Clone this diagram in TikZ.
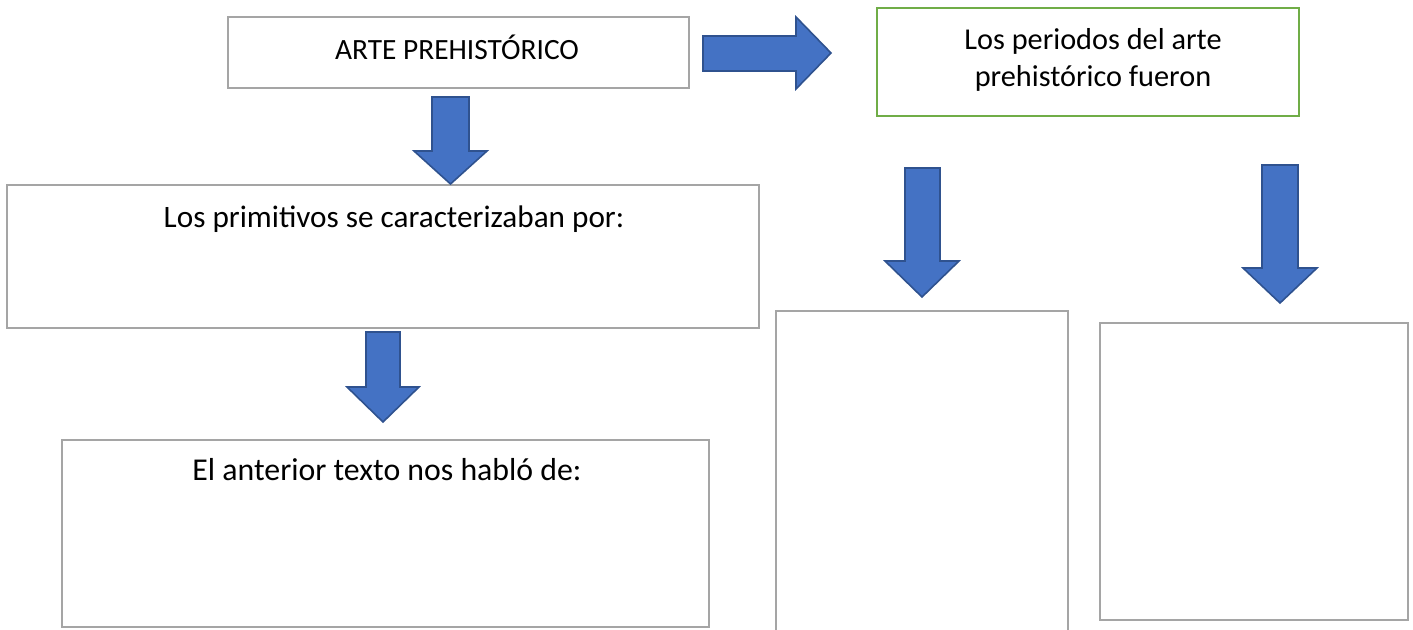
\documentclass[tikz,border=0pt]{standalone}
\usepackage{fontspec}
\setmainfont{Carlito}
\definecolor{boxgray}{HTML}{A5A5A5}
\definecolor{boxgreen}{HTML}{70AD47}
\definecolor{arrfill}{HTML}{4472C4}
\definecolor{arredge}{HTML}{2F528F}
\begin{document}
\begin{tikzpicture}[x=1pt,y=-1pt,
  box/.style={draw=boxgray,line width=2.6pt,fill=white,rectangle,inner sep=0pt,outer sep=0pt},
  gbox/.style={box,draw=boxgreen},
  lbl/.style={anchor=base,inner sep=0pt,align=center},
  blockarrow/.style={fill=arrfill,draw=arredge,line width=1.6pt,line join=miter}]
\useasboundingbox (0,0) rectangle (1413,629);
% boxes
\node[box,minimum width=461pt,minimum height=71pt] (b1) at (458.5,52.5) {};
\node[gbox,minimum width=422pt,minimum height=108pt] (g) at (1088,62) {};
\node[box,minimum width=752pt,minimum height=143pt] (b2) at (383,256.5) {};
\node[box,minimum width=647pt,minimum height=187pt] (b3) at (385.5,533.5) {};
\node[box,minimum width=292pt,minimum height=340pt] (b4) at (922,481) {};
\node[box,minimum width=308pt,minimum height=297pt] (b5) at (1254,471.5) {};
% texts
\node[lbl,font=\fontsize{29.4}{37}\selectfont] (t1) at (457,59) {ARTE PREHISTÓRICO};
\node[lbl,font=\fontsize{30.3}{37}\selectfont] (t2) at (1093,49) {Los periodos del arte};
\node[lbl,font=\fontsize{30.3}{37}\selectfont] (t3) at (1093,86) {prehistórico fueron};
\node[lbl,font=\fontsize{31.2}{37}\selectfont] (t4) at (394,227) {Los primitivos se caracterizaban por:};
\node[lbl,font=\fontsize{31.8}{37}\selectfont] (t5) at (387,480) {El anterior texto nos habló de:};
% block arrows
\draw[blockarrow] (703,36) -- (796,36) -- (796,17) -- (831,53) -- (796,89) -- (796,71) -- (703,71) -- cycle;
\draw[blockarrow] (432,97) -- (469,97) -- (469,151) -- (487,151) -- (450.5,184) -- (414,151) -- (432,151) -- cycle;
\draw[blockarrow] (366,332) -- (400,332) -- (400,387) -- (419,387) -- (383,422) -- (347,387) -- (366,387) -- cycle;
\draw[blockarrow] (905,168) -- (940,168) -- (940,261) -- (959,261) -- (922,297) -- (885,261) -- (905,261) -- cycle;
\draw[blockarrow] (1262,165) -- (1298,165) -- (1298,268) -- (1317,268) -- (1280,303) -- (1243,268) -- (1262,268) -- cycle;
\end{tikzpicture}
\end{document}
